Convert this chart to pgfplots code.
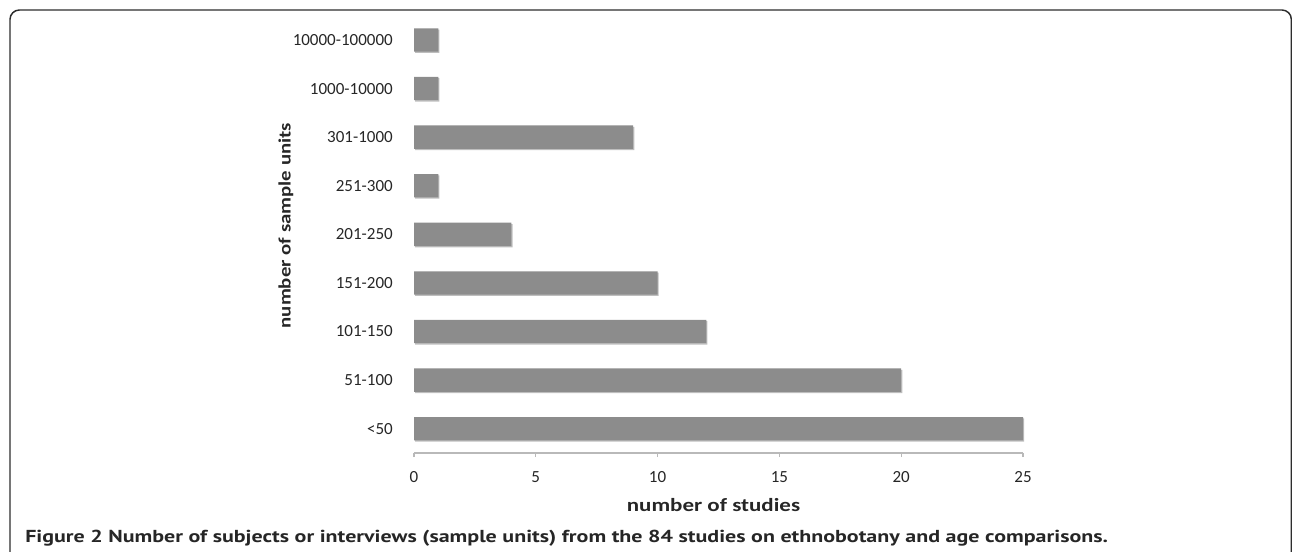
\documentclass[border=0pt]{standalone}
\usepackage{pgfplots}
\pgfplotsset{compat=1.18}
\usepackage{fontspec}
\setmainfont{Carlito}
\newfontfamily\capfont{PT Sans}
\definecolor{barfill}{RGB}{140,140,140}
\definecolor{barshadow}{RGB}{190,190,190}
\definecolor{axisgray}{RGB}{185,185,185}
\definecolor{framegray}{RGB}{45,45,45}
\begin{document}
\begin{tikzpicture}
\useasboundingbox (0,0) rectangle (969pt,413.25pt);
% frame round the figure (cut off at the right and bottom)
\draw[framegray, line width=1.1pt, rounded corners=7pt]
  (7.5pt,-12pt) -- (7.5pt,405.75pt) -- (968.5pt,405.75pt) -- (968.5pt,-12pt);
\begin{axis}[
  at={(310.5pt,73.5pt)}, anchor=south west,
  scale only axis,
  width=456.75pt, height=328pt,
  xbar, bar width=17.5pt,
  xmin=0, xmax=25,
  ymin=-0.5, ymax=8.5,
  axis lines*=left,
  x axis line style={axisgray, line width=1pt, -},
  y axis line style={draw=none},
  xtick={0,5,10,15,20,25},
  tick align=outside,
  major tick length=3pt,
  xtick style={axisgray, line width=0.9pt},
  ytick={0,...,8},
  yticklabels={<50,51-100,101-150,151-200,201-250,251-300,301-1000,1000-10000,10000-100000},
  ytick style={draw=none},
  /pgf/number format/assume math mode=true,
  ticklabel style={font=\fontsize{12.75}{15}\selectfont, text=black!85},
  xticklabel style={inner sep=0pt, anchor=north, yshift=-11pt},
  yticklabel style={inner sep=0pt, anchor=east, xshift=-12.75pt},
  xlabel={\resizebox{130pt}{\height}{\fontsize{14}{16}\selectfont\bfseries number of studies}},
  xlabel style={at={(axis description cs:0.5,0)}, anchor=base, xshift=-3.75pt, yshift=-43.5pt, inner sep=0pt, text=black!85},
  ylabel={\resizebox{154pt}{\height}{\fontsize{13}{15}\selectfont\bfseries number of sample units}},
  ylabel style={at={(axis description cs:-0.2102,0.52)}, anchor=center, inner sep=0pt, text=black!85},
  clip=false,
]
\addplot[draw=none, fill=barfill,
  preaction={fill=barshadow, transform canvas={xshift=0.8pt, yshift=-1pt}}]
  coordinates {
    (25,0) (20,1) (12,2) (10,3) (4,4) (1,5) (9,6) (1,7) (1,8)
  };
\end{axis}
\node[anchor=base west, inner sep=0pt, text=black!85] at (18.75pt,6.75pt)
  {\resizebox{812pt}{\height}{\capfont\fontsize{13}{15}\selectfont\bfseries Figure 2 Number of subjects or interviews (sample units) from the 84 studies on ethnobotany and age comparisons.}};
\end{tikzpicture}
\end{document}
